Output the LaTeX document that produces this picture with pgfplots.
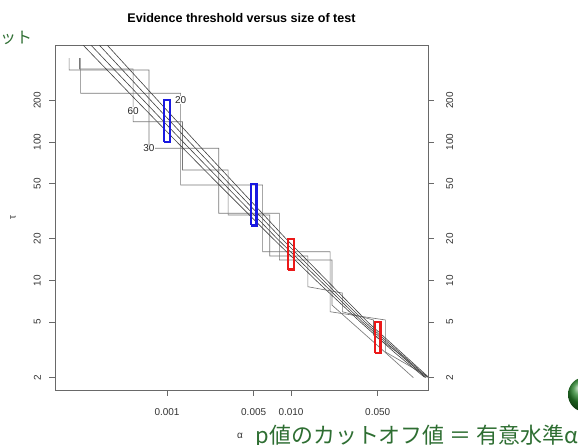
\documentclass[border=0pt]{standalone}
\usepackage{fontspec}
\setmainfont{Liberation Sans}
\newfontfamily\jp{Noto Sans CJK JP}
\usepackage{pgfplots}
\pgfplotsset{compat=1.18}
\definecolor{slidegreen}{RGB}{46,110,50}
\definecolor{axgray}{RGB}{105,105,105}
\definecolor{stepgray}{RGB}{120,120,120}
\definecolor{linegray}{RGB}{65,65,65}
\definecolor{rblue}{RGB}{25,25,225}
\definecolor{rred}{RGB}{235,25,25}
\begin{document}
\begin{tikzpicture}
\useasboundingbox (0,0) rectangle (578bp,445bp);
\clip (0,0) rectangle (578bp,445bp);
\begin{axis}[
  at={(55bp,55bp)}, anchor=south west,
  width=373bp, height=344.5bp, scale only axis,
  xmode=log, ymode=log,
  xmin=1.2497e-4, xmax=0.12727,
  ymin=1.620, ymax=497.6,
  tick align=outside, major tick length=6bp,
  minor tick style={draw=none},
  tick style={axgray, line width=0.8bp},
  axis line style={axgray, line width=0.8bp},
  ytick={2,5,10,20,50,100,200},
  yticklabels={2,5,10,20,50,100,200},
  ticklabel style={font=\fontsize{10}{12}\selectfont, text=black!80},
  xtick={0.001,0.005,0.01,0.05},
  xticklabels={0.001,0.005,0.010,0.050},
  xtick pos=lower, ytick pos=left,
  xticklabel style={anchor=north, inner xsep=0pt, inner ysep=12bp},
  yticklabel style={rotate=90, anchor=south, inner xsep=0pt, inner ysep=8bp},
]
% binomial n = 30
\addplot[stepgray, line width=0.65bp] coordinates {
(1.625e-4,404) (1.625e-4,331) (7.155e-4,331) (7.155e-4,90.1) (2.611e-3,90.1)
(2.611e-3,30.6) (8.063e-3,30.6) (8.063e-3,14.06) (0.02139,14.06) (0.02139,6.65)
(0.0494,3.42) (0.097,1.99)};
% binomial n = 60
\addplot[stepgray, line width=0.65bp] coordinates {
(1.970e-4,404) (1.970e-4,336.6) (5.329e-4,336.6) (5.329e-4,140.1) (1.3352e-3,140.1)
(1.3352e-3,62.8) (3.1088e-3,62.8) (3.1088e-3,29.7) (6.7447e-3,29.7) (6.7447e-3,15.03)
(0.01367,15.03) (0.01367,9.02) (0.025947,8.12) (0.025947,5.95) (0.04623,5.19)
(0.04623,4.04) (0.0775,2.9) (0.1225,1.99)};
% binomial n = 20
\addplot[stepgray, line width=0.65bp] coordinates {
(2.012e-4,404) (2.012e-4,224.7) (1.2884e-3,224.7) (1.2884e-3,48.9) (5.909e-3,48.9)
(5.909e-3,16.14) (0.020695,16.14) (0.020695,5.95) (0.057659,5.19) (0.057659,3.05)
(0.1316,1.99)};
% z test
\addplot[linegray, line width=0.6bp] coordinates {
(0.1195,2) (0.0691,3) (0.0364,5) (0.01594,10) (0.00719,20) (0.00258,50)
(0.001203,100) (0.000566,200) (0.000211,500)};
% t tests 60, 30, 20 df
\addplot[linegray, line width=0.6bp] coordinates {
(0.1224,2) (0.0379,5) (0.00776,20) (0.00135,100) (0.000244,500)};
\addplot[linegray, line width=0.6bp] coordinates {
(0.126,2) (0.0397,5) (0.00843,20) (0.00152,100) (0.000285,500)};
\addplot[linegray, line width=0.6bp] coordinates {
(0.129,2) (0.0417,5) (0.00912,20) (0.00171,100) (0.00033,500)};
% highlight boxes
\addplot[rblue, line width=2.2bp, line join=miter] coordinates {
(9.48e-4,100) (1.055e-3,100) (1.055e-3,200) (9.48e-4,200) (9.48e-4,100)};
\addplot[rblue, line width=2.2bp, line join=miter] coordinates {
(4.74e-3,25) (5.275e-3,25) (5.275e-3,50) (4.74e-3,50) (4.74e-3,25)};
\addplot[rred, line width=2.2bp, line join=miter] coordinates {
(9.48e-3,12) (1.055e-2,12) (1.055e-2,20) (9.48e-3,20) (9.48e-3,12)};
\addplot[rred, line width=2.2bp, line join=miter] coordinates {
(4.74e-2,3) (5.275e-2,3) (5.275e-2,5) (4.74e-2,5) (4.74e-2,3)};
\node[fill=white, inner sep=0.4bp, font=\fontsize{10}{12}\selectfont, text=black!85] at (axis cs:1.2884e-3,200) {20};
\node[fill=white, inner sep=0.4bp, font=\fontsize{10}{12}\selectfont, text=black!85] at (axis cs:5.329e-4,168) {60};
\node[fill=white, inner sep=0.4bp, font=\fontsize{10}{12}\selectfont, text=black!85] at (axis cs:7.155e-4,89.7) {30};
\end{axis}
\begin{axis}[
  at={(55bp,55bp)}, anchor=south west,
  width=373bp, height=344.5bp, scale only axis,
  xmode=log, ymode=log,
  xmin=1.2497e-4, xmax=0.12727,
  ymin=1.620, ymax=497.6,
  tick align=outside, major tick length=6bp,
  minor tick style={draw=none},
  tick style={axgray, line width=0.8bp},
  axis line style={axgray, line width=0.8bp},
  ytick={2,5,10,20,50,100,200},
  yticklabels={2,5,10,20,50,100,200},
  ticklabel style={font=\fontsize{10}{12}\selectfont, text=black!80},
  hide x axis, axis y line*=right,
  yticklabel style={rotate=90, anchor=north, inner xsep=0pt, inner ysep=12bp},
]
\addplot[draw=none] coordinates {(0.001,10)};
\end{axis}
% titles and labels
\node[font=\fontsize{12.6}{14}\selectfont\bfseries] at (241.5bp,426.5bp) {Evidence threshold versus size of test};
\node[rotate=90, font=\fontsize{10}{12}\selectfont, text=black!80] at (13bp,227.25bp) {τ};
\node[font=\fontsize{10}{12}\selectfont, text=black!80] at (240bp,9bp) {α};
% slide decorations
\node[anchor=base east, inner sep=0pt, text=slidegreen, font=\jp\fontsize{22}{24}\selectfont] at (578bp,2bp) {p値のカットオフ値 ＝ 有意水準α};
\node[anchor=west, inner sep=0pt, text=slidegreen, font=\jp\fontsize{16}{18}\selectfont] at (0bp,407bp) {ット};
\shade[ball color=slidegreen!85!green] (585.5bp,50.5bp) circle (17.5bp);
\end{tikzpicture}
\end{document}
